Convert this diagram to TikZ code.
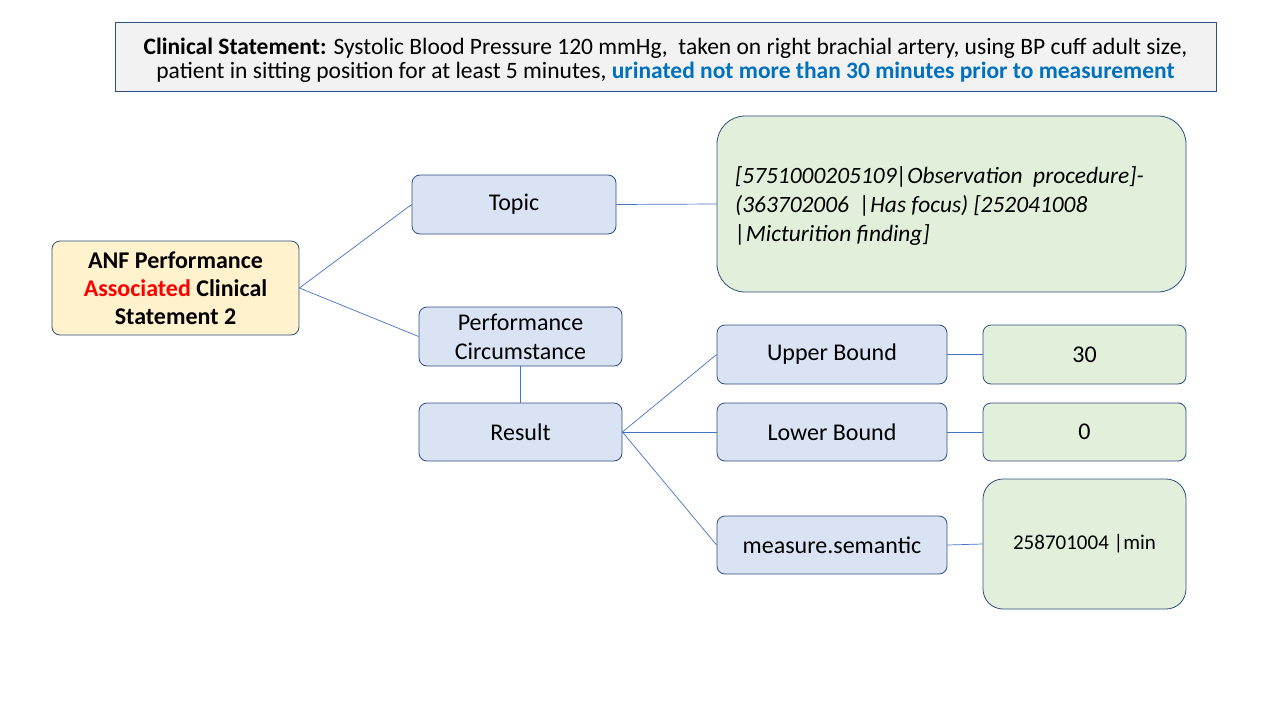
\documentclass[tikz,border=0pt]{standalone}
\usepackage{fontspec}
\setmainfont{Carlito}
\begin{document}
\begin{tikzpicture}[x=1pt,y=-1pt,
  bx/.style={draw=bordc, line width=0.8pt, rounded corners=8pt, inner sep=0pt, align=center, font=\fontsize{24}{28}\selectfont},
  blue/.style={bx, fill=bluef},
  green/.style={bx, fill=greenf},
  conn/.style={draw=linec, line width=0.7pt}]
\definecolor{bordc}{HTML}{2F4F7F}
\definecolor{bluef}{HTML}{DAE3F3}
\definecolor{greenf}{HTML}{E2EFDA}
\definecolor{yellf}{HTML}{FFF2CC}
\definecolor{grayf}{HTML}{F2F2F2}
\definecolor{linec}{HTML}{4472C4}
\definecolor{txtblue}{HTML}{0070C0}
\useasboundingbox[fill=white] (0,0) rectangle (1280,720);
% statement
\node[draw=bordc, fill=grayf, line width=0.8pt, minimum width=1101pt, minimum height=69pt, inner sep=0pt] (stmt) at (665.5,56.5) {};
\node[inner sep=0pt, align=center, font=\fontsize{23.5}{24}\selectfont] (stmtt) at (665.5,60)
 {\textbf{Clinical Statement:} Systolic Blood Pressure 120 mmHg,\ \ taken on right brachial artery, using BP cuff adult size,\\
 patient in sitting position for at least 5 minutes, \textcolor{txtblue}{\textbf{urinated not more than 30 minutes prior to measurement}}};
% main
\node[bx, fill=yellf, minimum width=247pt, minimum height=94pt, font=\fontsize{24}{28}\selectfont\bfseries] (anf) at (175.5,288)
 {ANF Performance\\\textcolor{red}{Associated} Clinical\\Statement 2};
\node[blue, minimum width=204pt, minimum height=59pt] (topic) at (514,204.5) {Topic};
\node[blue, minimum width=203pt, minimum height=59pt, font=\fontsize{24}{29}\selectfont] (pc) at (520.5,336.5) {Performance\\Circumstance};
\node[blue, minimum width=203pt, minimum height=58pt] (res) at (520.5,432) {Result};
\node[green, rounded corners=28pt, minimum width=469pt, minimum height=176pt] (tv) at (951.5,204) {};
\node[anchor=north west, inner sep=0pt, align=left, font=\fontsize{23.4}{29}\selectfont\itshape] (tvt) at (735,166)
 {[5751000205109|Observation\ \ procedure]-\\(363702006\ \ |Has focus) [252041008\\|Micturition finding]};
\node[blue, minimum width=230pt, minimum height=59pt] (ub) at (832,354.5) {Upper Bound};
\node[blue, minimum width=230pt, minimum height=58pt] (lb) at (832,432) {Lower Bound};
\node[blue, minimum width=230pt, minimum height=58pt] (ms) at (832,545) {measure.semantic};
\node[green, minimum width=203pt, minimum height=59pt] (v30) at (1084.5,354.5) {30};
\node[green, minimum width=203pt, minimum height=58pt] (v0) at (1084.5,432) {0};
\node[green, rounded corners=20pt, minimum width=203pt, minimum height=130pt, font=\fontsize{21}{24}\selectfont] (vmin) at (1084.5,544) {258701004 |min};
% connectors
\draw[conn] (anf.east) -- (topic.west);
\draw[conn] (anf.east) -- (pc.west);
\draw[conn] (pc.south) -- (res.north);
\draw[conn] (topic.east) -- (tv.west);
\draw[conn] (res.east) -- (ub.west);
\draw[conn] (res.east) -- (lb.west);
\draw[conn] (res.east) -- (ms.west);
\draw[conn] (ub.east) -- (v30.west);
\draw[conn] (lb.east) -- (v0.west);
\draw[conn] (ms.east) -- (vmin.west);
\end{tikzpicture}
\end{document}
